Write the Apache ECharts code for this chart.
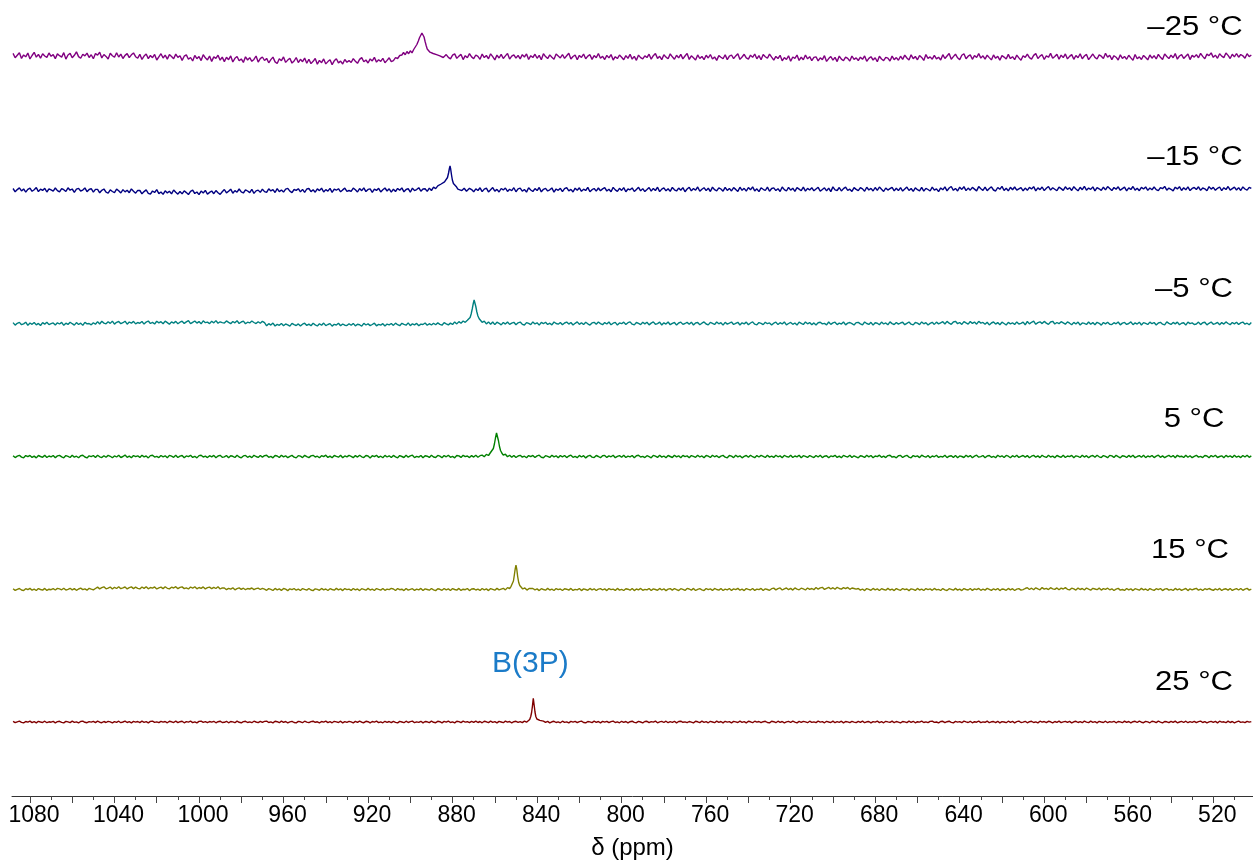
<!DOCTYPE html>
<html><head><meta charset="utf-8">
<script src="https://cdn.jsdelivr.net/npm/echarts@6/dist/echarts.min.js"></script>
<style>html,body{margin:0;padding:0;background:#fff}#c{width:1253px;height:865px}</style>
</head><body><div id="c"></div>
<script>
// ---- data (ppm sampling: 1088 down to 502, step 1; one row = 20 ppm) ----
const PPM_START = 1088, PPM_STEP = 1;
const tempLabels = ['–25 °C', '–15 °C', '–5 °C', '5 °C', '15 °C', '25 °C'];
const majorTicks = [520,540,560,580,600,620,640,660,680,700,720,740,760,780,800,820,840,860,880,900,920,940,960,980,1000,1020,1040,1060,1080];
const minorTicks = [510,530,550,570,590,610,630,650,670,690,710,730,750,770,790,810,830,850,870,890,910,930,950,970,990,1010,1030,1050,1070];
const tickLabels = [520,560,600,640,680,720,760,800,840,880,920,960,1000,1040,1080];
const peakLabel = 'B(3P)';

const base_m25 = [
4.6,0.3,2.8,5.2,-0.4,3.1,1.2,4.9,-0.9,2.5,5.7,0.8,3.6,-0.2,4.3,2.0,0.6,5.0,1.7,3.4,
-0.6,4.1,2.3,0.9,5.4,-1.1,3.0,4.6,0.2,2.7,6.1,1.4,-0.3,3.8,2.1,4.9,0.5,3.3,-0.8,4.4,
2.9,5.8,0.1,3.5,1.6,-1.0,4.7,2.2,0.7,5.3,1.0,3.9,-0.5,2.6,4.4,0.4,3.2,5.1,1.3,-0.2,
3.7,-1.4,1.9,4.0,-0.6,2.5,0.3,3.6,-2.0,1.2,4.3,0.0,2.8,-1.1,3.4,1.5,-0.8,3.9,0.6,2.2,
-2.4,1.8,3.1,-1.2,0.5,-3.0,2.6,-0.7,1.4,-2.6,3.3,0.2,-1.9,2.0,-3.4,1.1,-0.4,2.8,-2.2,0.9,
-3.6,0.8,-1.7,2.1,-4.0,-0.3,1.5,-2.8,-0.9,-4.4,1.2,-2.0,0.4,-3.3,-1.4,2.0,-4.1,-0.6,1.0,-2.5,
-0.4,-4.8,-1.6,0.9,-3.9,-5.5,-0.8,-2.7,1.1,-4.4,-2.1,-0.2,-5.1,-3.0,0.5,-4.6,-1.3,-3.7,-0.1,-5.3,
-1.2,-5.6,-3.3,-0.5,-6.2,-2.4,-4.7,-0.9,-5.9,-3.6,-1.7,-6.6,-2.8,-0.7,-4.9,-3.1,-6.0,-1.5,-4.2,-2.6,
-4.5,-0.6,-3.2,-5.3,-1.4,0.4,-3.8,-2.0,-5.0,-0.9,-2.9,0.6,-4.1,-1.8,-3.4,-0.3,-4.8,-2.4,0.2,-3.6,
-2.6,0.3,1,3,5,4,6,5,7,6,9,13,17,22,25,23,20,12,8,7,
6,5,3,2,-1.2,3.4,0.6,-0.9,2.8,4.1,-0.4,1.9,3.6,-1.6,2.3,0.2,4.4,1.1,-0.7,3.0,
1.6,-1.3,3.9,0.4,2.5,-0.8,4.2,1.3,-1.9,2.9,0.0,3.6,-0.5,2.1,4.6,-1.1,1.8,3.2,-0.2,2.7,
-0.9,3.4,1.0,4.1,-1.5,2.3,0.5,3.8,-0.3,2.6,-1.8,4.3,1.4,-0.6,3.1,0.8,-1.2,3.9,2.0,0.1,
3.5,-0.4,2.2,4.7,-1.0,1.5,3.0,-1.7,2.6,0.6,4.0,-0.7,1.9,3.3,-1.4,2.4,0.3,4.5,-0.2,1.7,
-1.5,2.6,0.1,3.4,-2.0,1.3,-0.6,3.0,0.8,-1.8,2.4,-0.3,3.7,-1.1,1.6,-2.3,2.9,0.4,-0.9,2.1,
0.5,3.8,-1.2,2.3,4.4,-0.4,1.7,-1.6,3.2,0.9,-0.7,4.1,1.2,-1.3,2.8,0.1,3.6,-0.9,2.0,4.6,
-1.4,2.2,0.3,-2.1,3.1,-0.5,1.6,-1.7,2.7,0.0,3.5,-1.0,1.1,-2.4,2.4,0.7,-0.8,3.3,-1.6,1.9,
3.0,-0.6,2.1,4.3,-1.4,1.0,3.7,0.2,-1.1,2.9,0.6,4.0,-0.8,2.4,-1.7,3.4,1.3,-0.2,3.9,0.8,
-2.1,1.6,-0.5,2.7,-2.8,0.4,-1.5,2.2,-3.2,1.0,-0.3,2.9,-2.4,0.8,-1.8,3.0,-0.9,1.4,-2.6,0.6,
1.2,-2.9,0.2,-1.6,2.3,-3.4,-0.6,1.5,-2.2,0.6,-3.6,1.9,-1.1,-2.7,0.9,-0.3,-3.1,2.0,-1.4,0.1,
-2.5,0.8,-1.3,2.1,-3.3,-0.4,1.3,-2.0,0.3,-3.8,1.7,-1.0,-2.6,0.6,-0.2,-3.0,1.9,-1.7,0.4,-2.3,
1.8,-1.4,2.9,0.0,-2.1,3.2,-0.7,1.5,-1.8,2.5,0.6,-2.4,3.4,-0.3,1.1,-1.2,2.7,-0.9,0.7,-2.0,
3.3,-0.5,2.0,4.5,-1.2,1.4,3.8,0.2,-1.6,2.7,4.2,-0.8,1.8,3.1,-1.3,2.4,0.5,4.4,-0.1,2.2,
-1.2,2.8,0.4,-1.9,3.1,-0.3,1.7,-2.2,2.4,0.9,-1.0,3.6,-0.6,1.3,-1.7,2.9,0.1,-2.3,2.2,0.6,
3.9,0.3,-1.1,2.6,4.4,-0.6,1.9,3.3,-1.5,2.2,0.7,4.6,-0.3,1.5,3.7,-1.2,2.9,0.4,4.1,-0.9,
1.6,3.4,-1.3,2.5,0.2,4.3,-0.8,2.0,3.6,-1.7,1.2,4.0,0.6,-1.0,3.1,1.8,-0.5,4.7,0.9,2.7,
-1.6,2.3,0.8,-2.0,3.2,-0.4,1.6,-1.3,2.8,0.1,-2.2,3.5,-0.7,1.1,-1.5,2.6,0.5,-1.9,3.0,-0.2,
2.4,-1.0,3.6,0.7,-1.4,4.1,1.5,-0.6,2.9,0.3,4.4,-1.2,2.0,3.3,-0.4,1.8,4.0,-1.6,2.6,0.9,
3.4,0.2,4.6,1.6,-0.8,3.9,2.3,5.1,0.6,2.9,-0.3,4.2,1.9,0.4,5.0,2.6,-0.5,3.7,1.1,4.5,
0.8,3.5,2.2,-0.3,4.3,1.4,3.0];
const peak_m25 = [[906,-0.5],[905,2.5],[904,3],[903.2,5.5],[902.4,3.2],[901.6,6.5],[900.8,4.3],[900,7.2],[899.2,5.1],[898.4,8.5],[897.6,9.5],[896.9,13.5],[896.2,17],[895.6,20.5],[895,22.5],[894.5,25],[894,23],[893.5,21],[893,16.5],[892.5,12.5],[892,9],[891.4,8.8],[890.7,5.8],[890,7.6],[889.2,4.5],[888.4,6.4],[887.6,3.4],[886.8,5.2],[886,2.2],[885.2,3.6],[884.4,0.5]];

const base_m15 = [
1.5,-1.8,0.4,2.1,-0.9,1.1,-2.2,0.7,1.9,-1.3,0.2,2.4,-1.6,0.9,-0.4,1.7,-2.0,1.2,0.1,-1.1,
2.0,-0.6,-1.9,1.4,0.3,-1.5,2.2,-0.2,1.0,-2.3,0.8,1.6,-1.0,-0.1,2.1,-1.7,0.5,1.3,-2.1,0.6,
0.6,-2.8,-0.3,1.0,-2.2,-3.1,0.2,-1.5,-2.6,0.9,-0.7,-3.0,0.4,-1.9,-0.2,-2.7,1.1,-1.2,-3.2,-0.4,
-0.5,-3.8,-1.6,0.1,-3.3,-4.2,-1.0,-2.5,0.3,-3.6,-2.0,-4.4,-0.8,-2.9,-1.3,-3.9,0.0,-2.3,-4.1,-1.5,
-3.9,-0.8,-2.6,-4.5,-1.4,-0.2,-3.5,-2.0,-4.6,-1.1,-3.0,-0.4,-4.2,-2.4,-1.0,-3.7,-0.6,-2.8,-4.4,-1.7,
0.5,-2.9,-1.3,0.8,-3.2,-0.6,-2.2,1.0,-1.8,-3.0,0.2,-1.0,-2.6,0.7,-3.4,-0.9,-0.1,-2.4,0.9,-1.6,
-2.3,1.2,-0.9,0.3,-2.5,1.4,-1.6,0.0,-2.1,0.9,1.6,-1.2,-2.6,0.5,-0.4,1.3,-1.9,0.6,-2.4,1.0,
1.5,-1.6,0.2,-2.2,1.1,-0.6,1.8,-2.0,0.4,-1.1,1.6,-2.4,0.8,-0.2,1.3,-1.8,0.1,1.9,-1.4,-0.5,
-1.3,1.9,0.2,-2.0,1.4,-0.7,2.2,-1.6,0.6,1.1,-2.3,0.9,-0.4,1.7,-1.9,0.3,2.0,-1.0,1.2,-2.1,
0.8,-1.5,1.6,-0.3,2.1,-1.8,0.5,1.3,-2.2,1.9,-0.6,0.4,2.3,-1.2,1.0,1,2,2,3,3,
4,5,5,6,7,8,10,14,22,15,7,4,2,1,1,-1.3,1.7,0.4,-1.8,1.2,
-0.5,2.2,-1.6,0.9,1.8,-1.9,0.3,2.4,-1.1,0.6,-2.0,1.5,0.1,2.0,-1.4,0.8,-0.7,2.3,-1.8,1.1,
1.9,-1.2,0.5,-2.1,2.2,0.0,-1.5,1.4,-0.6,2.5,-1.9,0.7,1.6,-1.0,0.2,2.1,-2.2,1.0,-0.3,1.7,
-1.7,1.3,2.4,-0.8,0.6,-2.0,1.8,-0.2,2.2,-1.4,0.9,-0.5,2.6,-1.8,0.3,1.5,-1.1,2.0,-0.7,1.1,
2.3,-1.0,0.8,-1.8,2.6,0.1,-1.3,1.7,-0.4,2.4,-1.7,1.0,0.2,2.1,-1.5,0.6,2.7,-0.9,1.4,-1.6,
0.4,2.5,-1.2,1.6,-0.5,2.8,-1.6,0.9,2.2,-0.8,1.3,-1.4,2.6,0.2,-1.0,1.9,-0.3,2.4,-1.7,1.0,
2.7,-0.9,1.5,-0.2,3.0,-1.3,0.8,2.3,-0.6,1.8,-1.5,2.9,0.3,-0.8,2.2,1.0,-1.2,2.6,-0.4,1.6,
-1.0,2.4,0.6,-1.4,2.8,-0.3,1.7,-1.1,2.5,0.2,3.1,-0.9,1.2,-1.6,2.2,0.7,-0.5,2.9,-1.2,1.5,
2.1,-0.6,1.3,-1.5,3.0,0.4,-1.0,2.6,-0.2,1.8,-1.3,2.4,0.9,-0.7,2.8,-1.1,1.6,0.0,2.3,-0.8,
1.0,2.7,-1.2,0.5,2.2,-0.9,1.9,-1.6,3.1,0.2,-0.5,2.5,-1.0,1.4,2.9,-0.3,0.8,-1.4,2.4,0.6,
-0.7,2.3,1.1,-1.3,2.8,0.0,1.6,-1.0,2.5,-0.4,3.0,0.7,-1.5,2.0,-0.1,1.3,2.7,-0.9,1.8,-0.6,
2.4,-1.1,0.9,2.9,-0.5,1.5,-1.4,2.2,0.3,-0.8,2.6,-1.2,1.7,0.5,-1.0,2.8,-0.2,1.2,-1.6,2.1,
0.2,3.1,-0.8,2.0,3.5,-0.3,1.6,-1.0,2.8,0.6,3.3,-0.6,1.9,-0.2,2.6,0.9,-0.9,3.4,1.3,-0.4,
2.9,-0.7,1.5,3.2,0.0,-1.0,2.5,0.7,3.6,-0.5,1.8,-0.9,2.7,0.3,3.0,-0.2,1.2,2.4,-0.8,1.9,
-0.3,2.6,1.0,3.4,-0.9,2.1,0.4,3.0,-0.6,1.7,3.5,-0.1,2.3,0.8,-0.7,2.9,1.4,-0.4,3.2,0.6,
2.2,-0.5,3.3,1.1,-0.8,2.7,0.3,3.6,-0.2,1.9,0.6,3.1,-0.9,2.4,1.2,-0.4,2.8,0.1,3.4,1.5,
-0.6,2.5,0.8,3.2,-0.3,1.4,2.9,-0.8,2.1,0.5,3.5,-0.1,1.7,-0.7,2.6,1.0,3.1,-0.4,2.0,0.3,
3.0,0.4,-0.7,2.4,1.3,3.6,-0.2,1.9,0.7,-0.9,2.8,1.1,3.3,-0.5,2.2,0.2,3.1,-0.6,1.6,2.5,
0.5,3.2,-0.4,2.0,1.2,-0.8,3.4,0.9,2.6,-0.3,1.7,3.0,-0.6,2.3,0.4,3.5,-0.1,1.4,2.8,0.0,
2.4,-0.5,3.1,1.0,-0.2,2.7,1.6];
const peak_m15 = [[893,1.2],[892,-1.4],[891,1.9],[890,-0.5],[889,2.8],[888,1.4],[887,4.2],[886.2,3.0],[885.4,6.0],[884.6,4.8],[883.8,8.2],[883,9],[882.4,12.5],[881.9,17],[881.5,21.5],[881.2,24],[880.9,21],[880.5,15],[880.1,10],[879.6,6.5],[879,4.5],[878.3,3.6],[877.5,0.8],[876.6,2.2],[875.6,-0.6],[874.5,1.8],[873.4,-1.2]];

const base_m5 = [
0.9,-1.6,0.2,1.1,-1.2,-0.4,1.3,-1.9,0.5,-0.8,1.0,-1.4,0.1,-2.0,0.8,-0.6,1.2,-1.1,-0.2,0.6,
-1.5,0.7,-0.5,1.1,-1.8,0.3,-0.9,1.3,-0.2,-1.6,0.9,-1.0,0.4,-1.9,1.2,-0.4,0.0,-1.3,0.8,-0.7,
1.9,-0.5,2.2,0.4,-0.3,1.7,0.1,2.4,-0.6,1.2,2.0,-0.2,0.8,2.3,-0.7,1.5,0.3,2.1,-0.4,1.0,
0.2,2.0,-0.6,1.4,2.5,0.0,1.1,-0.5,2.2,0.6,1.8,-0.3,2.4,0.9,-0.8,1.6,0.4,2.1,-0.2,1.3,
2.3,0.1,1.6,2.8,-0.2,1.2,2.5,0.4,1.9,-0.3,2.7,0.8,1.4,-0.1,2.2,0.6,2.9,0.2,1.7,0.9,
0.4,2.6,1.1,-0.2,2.0,0.7,2.8,0.0,1.5,2.4,-0.3,1.3,0.6,2.5,1.0,-0.1,1.8,0.3,2.2,0.8,
-2.3,-0.2,-1.6,0.4,-2.5,-0.9,-1.8,0.1,-2.2,-0.5,-1.3,-2.6,0.2,-1.1,-2.0,-0.4,-2.4,-0.7,0.3,-1.9,
-0.6,-2.2,0.2,-1.4,-2.5,-0.3,-1.8,0.4,-2.1,-1.0,-0.1,-2.6,-0.8,-1.5,0.3,-2.3,-0.5,-1.7,-2.0,-0.2,
-1.8,0.1,-2.4,-0.7,-1.2,-2.7,0.2,-1.5,-0.4,-2.1,-1.0,0.3,-2.3,-0.9,-1.6,-0.2,-2.5,-0.6,-1.3,0.0,
-1.9,0.4,-1.2,-2.2,0.2,-0.9,-1.7,0.6,-2.1,-0.3,-1.4,0.1,-2.3,-0.6,-1.0,0.5,-1.8,-0.2,-1.5,0.3,
-1.2,0.6,-0.8,-1.7,0.9,-0.3,-1.4,0.4,-1.0,1,2,2,3,3,6,14,23,20,11,5,
3,2,1.5,1,1,0.5,0.5,0.5,-1.1,1.3,0.2,-1.4,1.0,-0.6,1.5,-0.9,0.4,1.2,-1.3,0.7,
1.4,-0.8,-1.5,0.9,0.1,-1.2,1.6,-0.4,0.7,-1.6,1.1,-0.2,1.3,-1.0,0.3,-1.4,1.5,0.0,-0.7,1.0,
-1.3,0.5,1.4,-0.6,1.0,-1.5,0.2,1.6,-0.9,0.8,-1.1,1.3,-0.3,-1.6,0.6,1.2,-0.8,1.5,-0.1,-1.2,
0.9,-0.5,1.5,-1.3,0.3,1.1,-1.6,0.6,-0.2,1.4,-1.0,0.8,1.6,-0.7,-1.4,1.0,0.1,-1.1,1.3,-0.4,
1.2,-1.4,0.4,1.6,-0.8,-0.1,1.3,-1.5,0.7,-0.6,1.5,-1.2,0.2,1.0,-1.6,0.5,1.4,-0.9,0.0,1.1,
-0.7,1.3,-1.5,0.6,1.0,-1.2,0.3,1.6,-0.5,-1.4,1.1,0.2,-1.0,1.5,-0.3,0.8,-1.6,1.2,-0.6,0.4,
1.5,-1.0,0.1,1.2,-1.5,0.7,-0.4,1.4,-1.2,0.5,1.6,-0.7,-1.3,0.9,0.2,-1.1,1.3,-0.2,0.6,-1.4,
0.3,1.4,-1.1,0.8,-0.5,1.6,-1.4,0.0,1.1,-0.8,0.5,-1.6,1.3,0.2,-1.0,1.5,-0.3,0.9,-1.2,0.6,
-1.5,0.7,1.2,-0.4,0.1,-1.3,1.5,-0.9,0.6,1.3,-1.1,0.3,-0.6,1.6,-1.4,0.4,1.0,-0.2,-1.5,0.9,
1.1,-0.3,-1.4,1.5,0.0,-0.9,1.2,-1.6,0.8,0.3,-1.2,1.4,-0.5,0.6,-1.3,1.6,-0.1,-1.0,1.0,-0.6,
0.5,1.3,-1.2,0.2,1.5,-0.7,-1.4,1.0,0.4,-1.1,1.6,-0.3,0.9,-1.5,0.1,1.2,-0.9,1.4,-0.4,0.7,
1.8,-0.5,2.1,0.3,-0.8,1.5,2.2,-0.2,1.0,-0.9,1.9,0.6,-0.6,2.0,0.1,1.4,-0.7,2.2,0.4,1.1,
-0.8,1.2,-1.4,0.5,1.5,-0.6,0.9,-1.2,1.3,0.0,-1.5,1.1,-0.3,0.7,-1.0,1.6,-0.5,0.2,1.4,-1.3,
2.0,-0.4,1.2,2.3,-0.8,0.9,1.7,-0.1,2.1,0.4,-0.9,1.5,2.2,-0.5,1.0,-0.2,1.8,0.6,-0.7,1.6,
0.3,-1.2,1.1,-0.5,1.4,-1.5,0.6,0.1,-1.0,1.5,-0.7,0.9,-1.3,1.2,0.2,-1.6,1.0,-0.4,1.3,-0.8,
-1.1,0.8,-0.3,1.5,-1.4,0.4,1.1,-0.9,0.0,1.6,-1.2,0.6,-0.6,1.3,-1.5,0.9,0.2,-1.0,1.4,-0.2,
1.0,-1.5,0.5,1.2,-0.7,-1.3,1.6,0.1,-0.9,1.1,-0.4,1.4,-1.2,0.3,0.8,-1.6,1.3,-0.1,0.6,-1.0,
-0.5,1.4,-1.1,0.7,1.2,-1.4,0.2,1.5,-0.8,-0.2,1.1,-1.3,0.9,-0.6,1.6,0.0,-1.2,1.0,-0.4,1.3,
-1.0,0.6,1.4,-0.7,0.3,-1.3,0.9];
const peak_m5 = [[879,1.6],[878,-0.4],[877,1.9],[876,0.3],[875,2.5],[874,1.2],[873,3.2],[872.3,2.6],[871.7,6],[871.2,9.5],[870.7,14.5],[870.2,20],[869.8,23.5],[869.4,21.5],[869,17],[868.5,11.5],[868,7.5],[867.4,4.8],[866.7,3.2],[866,1.2],[865,2.4],[864,-0.4],[863,1.6],[862,-0.8],[861,1.5]];

const base_p5 = [
0.8,-1.1,0.3,1.2,-0.6,-1.3,0.9,-0.2,1.1,-0.9,0.4,-1.4,1.0,0.0,-0.8,1.3,-1.0,0.5,-0.3,1.0,
-1.2,0.6,1.1,-0.4,-1.3,0.9,0.1,-1.0,1.3,-0.7,0.3,-1.2,0.8,1.2,-0.5,-1.4,0.7,-0.1,1.0,-0.9,
1.3,-0.3,-1.1,0.8,-0.7,1.1,0.2,-1.3,0.6,-0.5,1.2,-1.0,0.0,1.4,-0.8,0.4,-1.2,1.0,-0.2,0.7,
-0.9,1.2,-0.4,0.5,-1.4,0.9,1.3,-0.6,0.1,-1.1,1.0,-0.3,0.7,-1.3,1.1,0.3,-0.8,1.2,-1.0,0.4,
1.0,-1.3,0.6,-0.1,1.2,-0.9,0.2,-1.4,0.9,1.3,-0.6,0.4,-1.1,0.8,-0.3,1.1,-1.2,0.5,1.2,-0.7,
-0.4,1.0,-1.2,0.7,0.2,-1.0,1.3,-0.5,-1.3,0.6,1.1,-0.8,0.3,-1.1,1.2,0.0,-0.9,1.0,-0.6,0.9,
1.2,-0.8,0.1,-1.3,1.0,0.5,-1.0,1.3,-0.4,0.7,-1.2,0.2,1.1,-0.7,-1.4,0.9,0.3,-1.1,1.2,-0.2,
-1.1,0.6,1.2,-0.5,0.3,-1.3,0.8,-0.1,1.3,-0.9,0.4,-1.2,1.0,0.1,-0.7,1.2,-1.3,0.6,-0.4,1.1,
0.2,-1.2,0.9,-0.6,1.3,-0.3,-1.1,1.0,0.5,-1.4,0.8,-0.1,1.2,-0.9,0.3,-1.2,1.1,-0.5,0.7,-1.0,
1.1,-0.4,-1.3,0.9,0.0,-1.0,1.2,-0.7,0.6,1.3,-1.1,0.2,-0.6,1.0,-1.3,0.8,0.3,-0.9,1.2,-0.5,
-1.0,1.1,0.4,-1.2,0.9,-0.3,1.3,-0.8,0.1,-1.3,1.0,0.6,-0.9,1.2,-0.2,0.5,-1.1,0.9,-0.6,1.3,
-0.7,0.8,1,1,2,2,3,5,12,23,16,6,3,2,1,1,-0.8,1.1,-1.0,0.5,
1.2,-0.6,0.3,-1.3,0.9,-0.2,1.1,-1.0,0.6,1.3,-0.7,-1.2,0.8,0.1,-0.9,1.2,-0.4,0.7,-1.3,0.9,
-0.3,1.0,-1.1,0.5,1.3,-0.8,0.2,-1.2,1.1,-0.5,0.8,-1.4,0.4,1.2,-0.6,-1.0,1.0,0.0,-1.2,0.7,
1.1,-0.9,0.6,-0.3,1.3,-1.2,0.1,0.9,-0.7,1.2,-1.0,0.4,-0.4,1.0,-1.3,0.7,1.2,-0.5,0.2,-1.1,
0.8,-0.2,-1.3,1.1,0.3,-0.9,1.2,-0.6,0.5,-1.2,1.0,0.0,-1.0,1.3,-0.4,0.7,-1.3,1.1,-0.1,0.6,
-1.2,0.9,0.2,-0.8,1.3,-0.5,0.6,-1.3,1.0,0.3,-1.0,1.2,-0.3,0.8,-1.1,0.4,1.1,-0.7,-1.3,1.0,
0.4,-1.1,1.2,-0.4,0.7,-1.3,0.1,1.0,-0.8,1.3,-0.2,-1.2,0.9,-0.5,1.1,0.2,-1.0,1.2,-0.6,0.3,
-0.9,1.2,-0.3,0.6,-1.2,1.1,0.0,-0.7,1.3,-1.0,0.5,-0.4,1.2,-1.3,0.8,0.2,-0.9,1.0,-0.2,-1.1,
1.0,-0.5,1.3,-1.1,0.3,0.8,-1.3,0.6,-0.1,1.2,-0.9,0.4,-1.2,1.1,0.1,-0.6,1.3,-1.0,0.7,-0.3,
-1.3,0.7,0.2,-0.9,1.2,-0.4,1.0,-1.2,0.5,-0.1,1.3,-0.8,0.3,-1.1,0.9,1.2,-0.6,0.0,-1.3,0.8,
1.1,-1.0,0.4,1.2,-0.6,-1.3,0.9,-0.2,0.6,-1.1,1.3,0.1,-0.7,1.0,-1.2,0.5,-0.3,1.2,-0.9,0.2,
-0.5,1.3,-1.1,0.3,0.8,-0.9,1.1,-1.3,0.6,0.0,-1.0,1.2,-0.4,0.9,-1.2,0.4,1.3,-0.7,-0.1,1.0,
-1.2,0.5,1.0,-0.8,0.2,-1.3,1.2,-0.3,0.7,-1.0,1.1,0.3,-1.2,0.8,-0.5,1.3,-0.9,0.1,1.0,-0.6,
0.9,-1.3,0.3,1.1,-0.7,0.6,-1.1,1.3,-0.2,-0.9,1.2,-0.5,0.4,-1.3,1.0,0.0,-0.8,1.2,-1.0,0.5,
-0.2,1.1,-1.2,0.7,0.1,-1.0,1.3,-0.6,0.8,-1.3,0.4,1.0,-0.8,1.2,-0.3,-1.1,0.9,0.2,-1.2,1.1,
0.6,-0.9,1.2,-0.1,-1.3,0.8,0.3,-1.0,1.1,-0.6,1.3,-1.2,0.0,0.9,-0.7,1.2,-1.1,0.5,-0.4,1.0,
-1.1,0.4,1.3,-0.8,0.6,-1.2,0.1,1.1,-0.5,0.9,-1.3,1.2,-0.2,0.3,-1.0,1.3,-0.7,0.8,-1.2,0.2,
1.2,-0.6,0.2,-1.1,1.0,0.5,-1.3,0.9,-0.3,1.2,-1.0,0.0,0.7,-1.2,1.1,-0.4,0.6,-0.9,1.3,-0.7,
0.3,-1.1,1.0,-0.5,1.2,-0.8,0.6];
const peak_p5 = [[866,1.4],[865,-0.2],[864,2.1],[863,1.0],[862.2,3.5],[861.4,5],[860.7,8],[860.2,12.5],[859.7,18.5],[859.2,23.5],[858.8,22],[858.3,16],[857.8,10],[857.3,6],[856.7,3.5],[856,1.4],[855,2.3],[854,-0.3],[853,1.3]];

const base_p15 = [
0.7,-0.9,0.2,1.0,-0.5,-1.1,0.8,-0.2,1.1,-0.7,0.4,-1.0,0.9,0.0,-0.6,1.1,-0.9,0.3,-0.2,0.8,
-0.5,1.1,0.6,-0.3,1.3,-0.6,0.2,1.2,-0.4,0.9,-0.8,0.5,1.4,-0.1,0.7,-0.7,1.2,0.3,-0.4,1.0,
2.4,0.6,1.8,2.7,0.7,1.3,2.5,0.5,2.2,1.0,2.8,0.8,1.6,2.5,0.6,1.9,2.6,0.9,2.3,1.2,
0.6,2.5,1.1,2.8,0.7,2.0,1.4,2.6,0.5,1.7,2.4,0.9,2.7,1.2,0.6,2.3,1.5,2.8,0.8,2.1,
2.6,0.9,1.7,0.5,2.5,1.3,2.8,0.7,2.0,1.1,2.6,0.6,1.8,2.4,0.8,2.2,1.0,2.7,0.5,1.6,
1.5,-0.2,1.2,0.4,1.7,-0.3,0.9,1.6,0.1,1.3,-0.2,1.0,0.5,1.5,-0.1,0.8,1.4,0.0,1.1,0.3,
-0.8,0.9,0.2,-1.0,1.1,-0.4,0.6,-0.9,1.0,0.3,-1.1,0.7,-0.2,1.0,-0.7,0.4,-1.0,0.9,0.1,-0.6,
1.0,-0.5,-1.1,0.7,0.1,-0.8,1.1,-0.3,0.5,-1.0,0.8,0.0,-0.7,1.1,-0.4,0.6,-1.1,0.9,-0.2,0.4,
-0.9,1.0,-0.3,0.5,-1.1,0.8,0.2,-0.7,1.1,-0.5,0.3,-1.0,0.9,0.1,-0.6,1.0,-0.8,0.4,-0.1,1.1,
0.5,-1.0,0.9,-0.2,0.3,-1.1,1.0,-0.6,0.1,0.8,-0.9,0.4,-0.4,1.1,-1.0,0.6,0.0,-0.7,1.0,-0.3,
-1.1,0.7,0.2,-0.8,1.0,-0.4,0.6,-1.0,0.9,0.0,-0.6,1.1,-0.9,0.3,-0.2,1.0,-1.1,0.5,0.8,-0.5,
0.3,-0.9,1.0,-0.3,0.6,-1.1,0.9,0.1,-0.7,1.1,-0.4,0.4,1,2,4,10,24,12,4,2,
1,1,1,0.5,0.5,-0.8,1.0,-0.3,0.6,-1.1,0.8,0.0,-0.7,1.1,-0.5,0.3,-1.0,0.9,-0.2,0.5,
-1.0,0.8,0.3,-0.6,1.1,-0.9,0.2,-0.4,1.0,-1.1,0.6,0.0,-0.8,1.1,-0.3,0.7,-1.0,0.4,0.9,-0.5,
0.6,-1.1,0.9,-0.2,0.4,-0.9,1.1,-0.6,0.1,-1.0,0.8,0.3,-0.7,1.0,-1.1,0.5,-0.3,1.1,-0.8,0.2,
-0.4,1.0,-1.0,0.6,0.0,-0.8,1.1,-0.5,0.7,-1.1,0.3,0.9,-0.6,1.0,-0.2,-1.0,0.8,0.1,-0.9,1.1,
0.5,-0.7,1.1,-1.0,0.2,0.8,-0.4,-1.1,1.0,-0.2,0.6,-0.9,1.1,0.0,-0.6,0.9,-1.0,0.4,-0.3,1.0,
-0.9,0.6,-0.1,1.1,-0.7,0.3,-1.1,0.9,0.1,-0.5,1.0,-0.9,0.4,-0.2,1.1,-1.0,0.7,0.0,-0.8,0.8,
1.4,-0.4,0.9,1.6,-0.5,0.7,1.5,-0.2,1.1,-0.6,1.6,0.3,-0.3,1.3,0.6,-0.5,1.5,0.1,1.0,-0.2,
2.0,0.3,1.6,2.2,0.1,1.2,2.1,0.5,1.8,0.2,2.2,1.0,0.4,1.9,0.8,2.1,0.2,1.5,1.0,0.4,
1.0,-0.6,0.5,-1.1,0.9,0.2,-0.8,1.1,-0.3,0.6,-1.0,0.8,0.0,-0.7,1.1,-0.5,0.3,-1.1,0.9,-0.2,
-0.8,1.0,-0.2,0.5,-1.1,0.7,0.1,-0.9,1.1,-0.5,0.4,-1.0,0.9,-0.1,0.6,-0.8,1.1,-0.4,0.2,-1.0,
0.9,-0.3,-1.0,0.8,0.2,-0.7,1.1,-0.6,0.4,-1.1,0.9,0.0,-0.5,1.0,-0.9,0.6,-0.2,1.1,-0.8,0.3,
-0.6,1.1,0.1,-0.9,0.7,-0.3,1.0,-1.1,0.5,0.2,-0.8,1.1,-0.4,0.8,-1.0,0.3,0.9,-0.6,-0.1,1.0,
1.8,0.0,1.3,-0.2,1.7,0.6,-0.3,1.9,0.4,1.2,-0.1,1.8,0.7,0.1,1.6,-0.3,1.4,0.5,1.9,0.2,
-0.4,1.3,0.6,-0.6,1.4,0.0,1.0,-0.5,1.5,0.3,-0.7,1.2,0.5,-0.2,1.4,-0.6,0.9,0.2,1.3,-0.3,
0.7,-1.0,0.3,1.1,-0.6,0.0,-0.9,1.0,-0.4,0.6,-1.1,0.8,0.2,-0.7,1.1,-0.3,0.5,-1.0,0.9,-0.1,
-0.9,0.8,-0.2,1.0,-1.1,0.4,0.9,-0.6,0.1,-1.0,1.1,-0.4,0.6,-0.8,0.2,1.0,-1.1,0.7,-0.3,0.5,
1.1,-0.7,0.4,-1.0,0.8,-0.2,1.0,0.0,-0.9,0.6,-0.5,1.1,-1.0,0.3,0.7,-0.6,1.0,-0.9,0.2,0.9,
-0.5,1.0,-0.8,0.4,1.1,-0.6,0.3];
const peak_p15 = [[856,1.2],[855,-0.4],[854,1.9],[853,1.0],[852.3,3.2],[851.7,5],[851.2,8.5],[850.8,14],[850.4,20],[850,24.3],[849.6,20],[849.2,13],[848.7,7],[848.2,4],[847.6,2.4],[846.8,0.5],[845.8,1.6],[844.8,-0.6],[843.8,1.0]];

const base_p25 = [
0.6,-0.7,0.2,0.8,-0.4,-0.8,0.5,-0.1,0.9,-0.6,0.3,-0.9,0.7,0.0,-0.5,0.8,-0.7,0.2,-0.2,0.6,
-0.8,0.4,0.7,-0.3,-0.9,0.6,0.1,-0.6,0.8,-0.4,0.2,-0.8,0.5,0.9,-0.3,-0.7,0.4,-0.1,0.7,-0.6,
0.8,-0.2,-0.7,0.5,-0.5,0.7,0.1,-0.9,0.4,-0.3,0.8,-0.7,0.0,0.9,-0.5,0.3,-0.8,0.6,-0.1,0.5,
-0.6,0.8,-0.3,0.3,-0.9,0.6,0.8,-0.4,0.1,-0.7,0.7,-0.2,0.5,-0.8,0.7,0.2,-0.5,0.8,-0.6,0.3,
0.7,-0.8,0.4,-0.1,0.8,-0.6,0.2,-0.9,0.6,0.9,-0.4,0.3,-0.7,0.5,-0.2,0.7,-0.8,0.3,0.8,-0.5,
-0.3,0.7,-0.8,0.5,0.1,-0.7,0.9,-0.3,-0.8,0.4,0.7,-0.5,0.2,-0.7,0.8,0.0,-0.6,0.7,-0.4,0.6,
0.8,-0.5,0.1,-0.9,0.7,0.3,-0.7,0.9,-0.3,0.5,-0.8,0.1,0.7,-0.5,-0.9,0.6,0.2,-0.7,0.8,-0.1,
-0.7,0.4,0.8,-0.3,0.2,-0.9,0.5,-0.1,0.9,-0.6,0.3,-0.8,0.7,0.1,-0.5,0.8,-0.9,0.4,-0.3,0.7,
0.1,-0.8,0.6,-0.4,0.9,-0.2,-0.7,0.7,0.3,-0.9,0.5,-0.1,0.8,-0.6,0.2,-0.8,0.7,-0.3,0.5,-0.7,
0.7,-0.3,-0.9,0.6,0.0,-0.7,0.8,-0.5,0.4,0.9,-0.7,0.1,-0.4,0.7,-0.9,0.5,0.2,-0.6,0.8,-0.3,
-0.7,0.7,0.3,-0.8,0.6,-0.2,0.9,-0.5,0.1,-0.9,0.7,0.4,-0.6,0.8,-0.1,0.3,-0.7,0.6,-0.4,0.9,
-0.5,0.5,-0.8,0.7,0.2,-0.6,0.8,-0.3,0.4,-0.9,0.6,0.0,-0.7,0.9,-0.2,0.5,-0.8,0.3,0.7,-0.4,
0.4,-0.6,1,2,4,12,23,14,5,2,1,1,-0.3,0.6,-0.9,0.2,0.7,-0.5,0.1,-0.8,
0.8,-0.4,0.2,-0.9,0.6,-0.1,0.7,-0.7,0.4,0.9,-0.5,-0.8,0.5,0.1,-0.6,0.8,-0.3,0.5,-0.9,0.6,
-0.2,0.7,-0.7,0.3,0.9,-0.5,0.1,-0.8,0.7,-0.3,0.5,-0.9,0.3,0.8,-0.4,-0.7,0.7,0.0,-0.8,0.5,
0.7,-0.6,0.4,-0.2,0.9,-0.8,0.1,0.6,-0.5,0.8,-0.7,0.3,-0.3,0.7,-0.9,0.5,0.8,-0.3,0.1,-0.7,
0.5,-0.1,-0.9,0.7,0.2,-0.6,0.8,-0.4,0.3,-0.8,0.7,0.0,-0.7,0.9,-0.3,0.5,-0.9,0.7,-0.1,0.4,
-0.8,0.6,0.1,-0.5,0.9,-0.3,0.4,-0.9,0.7,0.2,-0.7,0.8,-0.2,0.5,-0.7,0.3,0.7,-0.5,-0.9,0.7,
0.3,-0.7,0.8,-0.3,0.5,-0.9,0.1,0.7,-0.5,0.9,-0.1,-0.8,0.6,-0.3,0.7,0.1,-0.7,0.8,-0.4,0.2,
-0.6,0.8,-0.2,0.4,-0.8,0.7,0.0,-0.5,0.9,-0.7,0.3,-0.3,0.8,-0.9,0.5,0.1,-0.6,0.7,-0.1,-0.7,
0.7,-0.3,0.9,-0.7,0.2,0.5,-0.9,0.4,-0.1,0.8,-0.6,0.3,-0.8,0.7,0.1,-0.4,0.9,-0.7,0.5,-0.2,
-0.9,0.5,0.1,-0.6,0.8,-0.3,0.7,-0.8,0.3,-0.1,0.9,-0.5,0.2,-0.7,0.6,0.8,-0.4,0.0,-0.9,0.5,
0.7,-0.7,0.3,0.8,-0.4,-0.9,0.6,-0.1,0.4,-0.7,0.9,0.1,-0.5,0.7,-0.8,0.3,-0.2,0.8,-0.6,0.1,
-0.3,0.9,-0.7,0.2,0.5,-0.6,0.7,-0.9,0.4,0.0,-0.7,0.8,-0.3,0.6,-0.8,0.3,0.9,-0.5,-0.1,0.7,
-0.8,0.3,0.7,-0.5,0.1,-0.9,0.8,-0.2,0.5,-0.7,0.7,0.2,-0.8,0.5,-0.3,0.9,-0.6,0.1,0.7,-0.4,
0.6,-0.9,0.2,0.7,-0.5,0.4,-0.7,0.9,-0.1,-0.6,0.8,-0.3,0.3,-0.9,0.7,0.0,-0.5,0.8,-0.7,0.3,
-0.1,0.7,-0.8,0.5,0.1,-0.7,0.9,-0.4,0.5,-0.9,0.3,0.7,-0.5,0.8,-0.2,-0.7,0.6,0.1,-0.8,0.7,
0.4,-0.6,0.8,-0.1,-0.9,0.5,0.2,-0.7,0.7,-0.4,0.9,-0.8,0.0,0.6,-0.5,0.8,-0.7,0.3,-0.3,0.7,
-0.7,0.3,0.9,-0.5,0.4,-0.8,0.1,0.7,-0.3,0.6,-0.9,0.8,-0.1,0.2,-0.7,0.9,-0.5,0.5,-0.8,0.1,
0.8,-0.4,0.1,-0.7,0.6,-0.2,0.4];
const peak_p25 = [[846,0.9],[845,-0.2],[844.2,1.8],[843.5,2.6],[843,5.5],[842.6,9.5],[842.2,16],[841.8,23.7],[841.4,17],[841,10],[840.6,5.5],[840.1,3],[839.5,1.2],[838.7,1.6],[837.8,-0.4],[837,0.9]];

const seriesBase = [base_m25, base_m15, base_m5, base_p5, base_p15, base_p25];
const seriesPeak = [peak_m25, peak_m15, peak_m5, peak_p5, peak_p15, peak_p25];
const colors = ['#800080', '#000080', '#008080', '#008000', '#808000', '#800000'];

// ---- layout (pixels) ----
const X_MIN = 501.2, X_MAX = 1088.5;
const GL = 12, GR = 0;
const baselineY = [58, 190, 323.5, 456.5, 589.5, 722];
const labelPos = [[1195, 28], [1195, 158], [1194, 290], [1194, 420], [1190, 551], [1194, 683]];
const FONT = 'Liberation Sans, Arial, sans-serif';

function buildTrace(base, peak) {
  const xs = peak.map(p => p[0]);
  const lo = Math.min(...xs), hi = Math.max(...xs);
  const pts = [];
  base.forEach((v, i) => {
    const x = PPM_START - i * PPM_STEP;
    if (x < lo || x > hi) pts.push([x, v]);
  });
  peak.forEach(p => pts.push([p[0], p[1]]));
  pts.sort((a, b) => b[0] - a[0]);
  return pts;
}

const grids = [], xAxes = [], yAxes = [], series = [];
seriesBase.forEach((b, i) => {
  grids.push({ left: GL, right: GR, top: baselineY[i] - 50, height: 65, containLabel: false });
  xAxes.push({ type: 'value', gridIndex: i, min: X_MIN, max: X_MAX, inverse: true, show: false });
  yAxes.push({ type: 'value', gridIndex: i, min: -15, max: 50, show: false });
  const s = {
    type: 'line', xAxisIndex: i, yAxisIndex: i, data: buildTrace(b, seriesPeak[i]),
    showSymbol: false, symbol: 'none', lineStyle: { color: colors[i], width: 1.4 },
    itemStyle: { color: colors[i] }, silent: true, z: 3
  };
  if (i === 5) {
    const top = seriesPeak[i].reduce((a, p) => (p[1] > a[1] ? p : a));
    s.markPoint = {
      symbol: 'circle', symbolSize: 0, silent: true,
      data: [{ coord: [top[0], top[1]] }],
      label: { show: true, formatter: peakLabel, position: 'inside', offset: [-3, -35],
        color: '#1b7bc8', fontSize: 30, fontFamily: FONT }
    };
  }
  series.push(s);
});

// axis grid
grids.push({ left: GL, right: GR, top: 8, bottom: 68 });
yAxes.push({ type: 'value', gridIndex: 6, show: false });
xAxes.push({
  type: 'value', gridIndex: 6, min: X_MIN, max: X_MAX, inverse: true, position: 'bottom',
  axisLine: { show: true, lineStyle: { color: '#333', width: 1 } },
  axisTick: { show: true, length: 7, customValues: majorTicks, lineStyle: { color: '#444', width: 1 } },
  axisLabel: { show: true, customValues: tickLabels, formatter: v => String(v), fontSize: 23, color: '#000', fontFamily: FONT, margin: 8, padding: [0, 0, 0, 8] },
  splitLine: { show: false },
  name: 'δ (ppm)', nameLocation: 'middle', nameGap: 40,
  nameTextStyle: { fontSize: 24, color: '#000', fontFamily: FONT }
});
xAxes.push({
  type: 'value', gridIndex: 6, min: X_MIN, max: X_MAX, inverse: true, position: 'bottom',
  axisLine: { show: false },
  axisTick: { show: true, length: 4, customValues: minorTicks, lineStyle: { color: '#444', width: 1 } },
  axisLabel: { show: false }, splitLine: { show: false }
});

const graphics = tempLabels.map((t, i) => ({
  type: 'text', x: labelPos[i][0], y: labelPos[i][1], scaleX: 1.15, silent: true,
  style: { text: t, fontSize: 27, fontFamily: FONT, fill: '#000', align: 'center', verticalAlign: 'middle' }
}));

const chart = echarts.init(document.getElementById('c'), null, { renderer: 'canvas' });
chart.setOption({
  animation: false,
  backgroundColor: '#fff',
  grid: grids, xAxis: xAxes, yAxis: yAxes, series: series,
  graphic: graphics
});
</script>
</body></html>
